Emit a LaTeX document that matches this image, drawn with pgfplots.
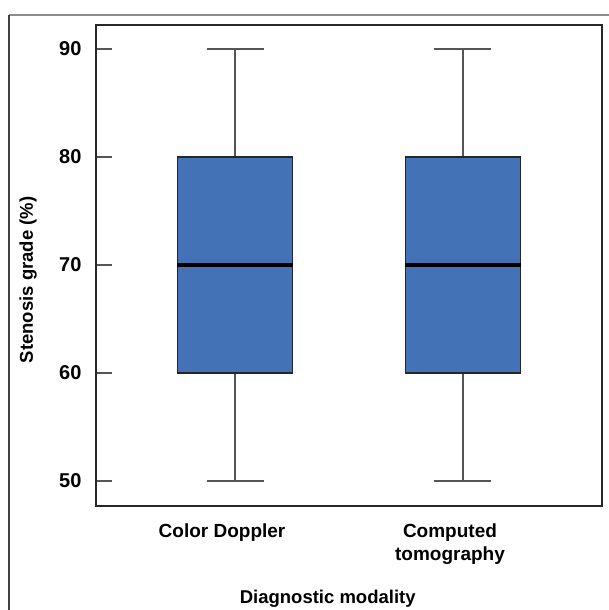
\documentclass[border=0pt]{standalone}
\usepackage{pgfplots}
\pgfplotsset{compat=1.18}
\usepackage{fontspec}
\setmainfont{Liberation Sans}
\definecolor{boxblue}{RGB}{68,114,182}
\definecolor{whiskgray}{RGB}{85,85,85}
\definecolor{axgray}{RGB}{40,40,40}
\begin{document}
\begin{tikzpicture}
\begin{axis}[
  scale only axis,
  width=506pt, height=481pt,
  xmin=3.9, xmax=26.1,
  ymin=47.69, ymax=92.22,
  axis line style={draw=axgray, line width=1.8pt},
  ytick={50,60,70,80,90},
  xtick={10,20},
  xticklabels={Color Doppler, {Computed\\tomography}},
  ytick pos=left,
  xtick pos=bottom,
  tick align=inside,
  major tick length=16pt,
  ytick style={draw=whiskgray, line width=1.8pt},
  xtick style={draw=none},
  /pgf/number format/assume math mode=true,
  yticklabel style={font=\fontsize{20}{22}\selectfont\bfseries, xshift=-11pt},
  xticklabel style={font=\fontsize{19}{23}\selectfont\bfseries, align=center, anchor=north, yshift=-14pt, xshift=-13pt},
  xlabel={Diagnostic modality},
  ylabel={Stenosis grade (\%)},
  xlabel style={font=\fontsize{18.5}{20}\selectfont\bfseries, at={(axis description cs:0.458,-0.192)}, anchor=center},
  ylabel style={font=\fontsize{18.5}{20}\selectfont\bfseries, at={(axis description cs:-0.134,0.47)}, anchor=center},
]
% Color Doppler: min 50, Q1 60, median 70, Q3 80, max 90
\addplot[whiskgray, line width=1.8pt] coordinates {(10,80) (10,90)};
\addplot[whiskgray, line width=1.8pt] coordinates {(8.75,90) (11.25,90)};
\addplot[whiskgray, line width=1.8pt] coordinates {(10,50) (10,60)};
\addplot[whiskgray, line width=1.8pt] coordinates {(8.75,50) (11.25,50)};
\addplot[fill=boxblue, draw=black!85, line width=1.3pt] coordinates {(7.465,60) (12.535,60) (12.535,80) (7.465,80)} -- cycle;
\addplot[black, line width=3.2pt] coordinates {(7.465,70) (12.535,70)};
% Computed tomography: min 50, Q1 60, median 70, Q3 80, max 90
\addplot[whiskgray, line width=1.8pt] coordinates {(20,80) (20,90)};
\addplot[whiskgray, line width=1.8pt] coordinates {(18.75,90) (21.25,90)};
\addplot[whiskgray, line width=1.8pt] coordinates {(20,50) (20,60)};
\addplot[whiskgray, line width=1.8pt] coordinates {(18.75,50) (21.25,50)};
\addplot[fill=boxblue, draw=black!85, line width=1.3pt] coordinates {(17.465,60) (22.535,60) (22.535,80) (17.465,80)} -- cycle;
\addplot[black, line width=3.2pt] coordinates {(17.465,70) (22.535,70)};
\end{axis}
\draw[draw=gray!90, line width=1.8pt] (-87pt,491pt) -- (520pt,491pt);
\draw[draw=black!75, line width=1.2pt] (-87pt,491pt) -- (-87pt,-110pt);
\pgfresetboundingbox
\path[use as bounding box] (-96pt,-104pt) rectangle (512pt,506pt);
\end{tikzpicture}
\end{document}
